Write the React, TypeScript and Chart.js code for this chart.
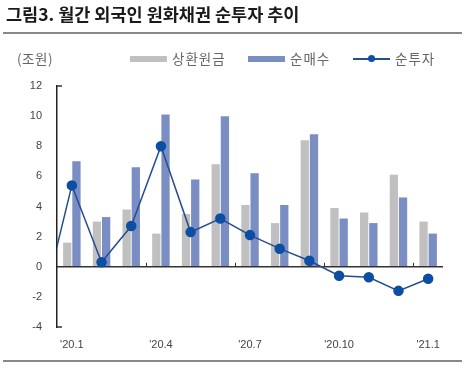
import React, { useEffect, useRef } from "react";
import { Chart, registerables } from "chart.js";

Chart.register(...registerables);

const MONTHS = ["'19.12", "'20.1", "'20.2", "'20.3", "'20.4", "'20.5", "'20.6", "'20.7", "'20.8", "'20.9", "'20.10", "'20.11", "'20.12", "'21.1"];
const TICK_LABELS = ["'20.1", "'20.4", "'20.7", "'20.10", "'21.1"];
const REPAYMENT = [null, 1.6, 3.0, 3.8, 2.2, 3.5, 6.8, 4.1, 2.9, 8.4, 3.9, 3.6, 6.1, 3.0];
const NET_BUY = [null, 7.0, 3.3, 6.6, 10.1, 5.8, 10.0, 6.2, 4.1, 8.8, 3.2, 2.9, 4.6, 2.2];
const NET_INVEST = [-2.7, 5.4, 0.3, 2.7, 8.0, 2.3, 3.2, 2.1, 1.2, 0.4, -0.6, -0.7, -1.6, -0.8];
const Y_MIN = -4;
const Y_MAX = 12;

const GRAY = "#c0c0c0";
const BLUE = "#7b8ec4";
const LINE = "#244e90";
const DOT = "#0b4ea2";

const axisPlugin = {
  id: "axisDecor",
  afterDatasetDraw(chart: any, args: any) {
    if (args.index !== 0) return;
    const { ctx, chartArea, scales } = chart;
    const x = scales.x;
    const y = scales.y;
    const y0 = y.getPixelForValue(0);
    ctx.save();
    ctx.strokeStyle = "#333";
    ctx.lineWidth = 1.5;
    ctx.beginPath();
    ctx.moveTo(chartArea.left, y0);
    ctx.lineTo(chartArea.right, y0);
    ctx.stroke();
    ctx.lineWidth = 1;
    for (let i = 3; i < MONTHS.length - 1; i += 3) {
      const xb = Math.round((x.getPixelForValue(i) + x.getPixelForValue(i + 1)) / 2) + 0.5;
      ctx.beginPath();
      ctx.moveTo(xb, y0);
      ctx.lineTo(xb, y0 - 4);
      ctx.stroke();
    }
    ctx.lineWidth = 1.5;
    [Y_MAX, Y_MIN].forEach((v) => {
      const yy = y.getPixelForValue(v);
      ctx.beginPath();
      ctx.moveTo(chartArea.left, yy);
      ctx.lineTo(chartArea.left + 5, yy);
      ctx.stroke();
    });
    ctx.restore();
  },
};

export default function App() {
  const ref = useRef<HTMLCanvasElement | null>(null);

  useEffect(() => {
    if (!ref.current) return;
    const chart = new Chart(ref.current, {
      type: "bar",
      data: {
        labels: MONTHS,
        datasets: [
          {
            type: "bar",
            label: "상환원금",
            data: REPAYMENT as any,
            backgroundColor: GRAY,
            categoryPercentage: 0.62,
            barPercentage: 0.9,
            order: 1,
          },
          {
            type: "bar",
            label: "순매수",
            data: NET_BUY as any,
            backgroundColor: BLUE,
            categoryPercentage: 0.62,
            barPercentage: 0.9,
            order: 1,
          },
          {
            type: "line",
            label: "순투자",
            data: NET_INVEST,
            borderColor: LINE,
            borderWidth: 1.5,
            backgroundColor: DOT,
            pointBackgroundColor: DOT,
            pointBorderColor: DOT,
            pointRadius: 4.5,
            tension: 0,
            order: 0,
          },
        ],
      },
      options: {
        animation: false,
        responsive: false,
        maintainAspectRatio: false,
        layout: { padding: { top: 86, right: 23, bottom: 0, left: 0 } },
        plugins: { legend: { display: false }, tooltip: { enabled: false } },
        scales: {
          x: {
            type: "category",
            min: "'20.1",
            offset: true,
            grid: { display: false, drawTicks: false },
            border: { display: false },
            ticks: {
              autoSkip: false,
              maxRotation: 0,
              padding: 11,
              color: "#444",
              font: { family: "'Liberation Sans', Arial, sans-serif", size: 11 },
              callback: function (this: any, val: any) {
                const lab = this.getLabelForValue(val);
                return TICK_LABELS.includes(lab) ? lab : "";
              },
            },
            afterFit: (scale: any) => {
              scale.height = 42;
            },
          },
          y: {
            min: Y_MIN,
            max: Y_MAX,
            grid: { display: false, drawTicks: false },
            border: { display: true, color: "#222", width: 1.5 },
            ticks: {
              stepSize: 2,
              padding: 15,
              color: "#444",
              font: { family: "'Liberation Sans', Arial, sans-serif", size: 11 },
            },
            afterFit: (scale: any) => {
              scale.width = 57;
            },
          },
        },
      },
      plugins: [axisPlugin],
    });
    return () => chart.destroy();
  }, []);

  const kfont = "'Noto Sans CJK KR', 'Noto Sans', sans-serif";
  const legendText: React.CSSProperties = {
    position: "absolute",
    top: 49,
    fontFamily: kfont,
    fontSize: 13.5,
    letterSpacing: 1,
    color: "#666",
    lineHeight: "18px",
    whiteSpace: "nowrap",
  };

  return (
    <div style={{ position: "absolute", left: 0, top: 0, width: 466, height: 369, background: "#fff", overflow: "hidden" }}>
      <canvas ref={ref} width={466} height={369} style={{ position: "absolute", left: 0, top: 0, width: 466, height: 369 }} />
      <div style={{ position: "absolute", left: 6, top: 2, fontFamily: kfont, fontWeight: 700, fontSize: 17.5, color: "#1a1a1a", whiteSpace: "nowrap", lineHeight: "24px" }}>
        그림3. 월간 외국인 원화채권 순투자 추이
      </div>
      <div style={{ position: "absolute", left: 3, top: 32, width: 459, height: 1.5, background: "#888" }} />
      <div style={{ ...legendText, left: 17, letterSpacing: 0.5 }}>(조원)</div>
      <div style={{ position: "absolute", left: 130, top: 56, width: 37, height: 6, background: GRAY }} />
      <div style={{ ...legendText, left: 172 }}>상환원금</div>
      <div style={{ position: "absolute", left: 248, top: 56, width: 37, height: 6, background: BLUE }} />
      <div style={{ ...legendText, left: 290 }}>순매수</div>
      <div style={{ position: "absolute", left: 353, top: 58, width: 37, height: 1.5, background: LINE }} />
      <div style={{ position: "absolute", left: 368, top: 55, width: 7, height: 7, borderRadius: "50%", background: DOT }} />
      <div style={{ ...legendText, left: 395 }}>순투자</div>
      <div style={{ position: "absolute", left: 3, top: 360, width: 459, height: 1.5, background: "#888" }} />
    </div>
  );
}
